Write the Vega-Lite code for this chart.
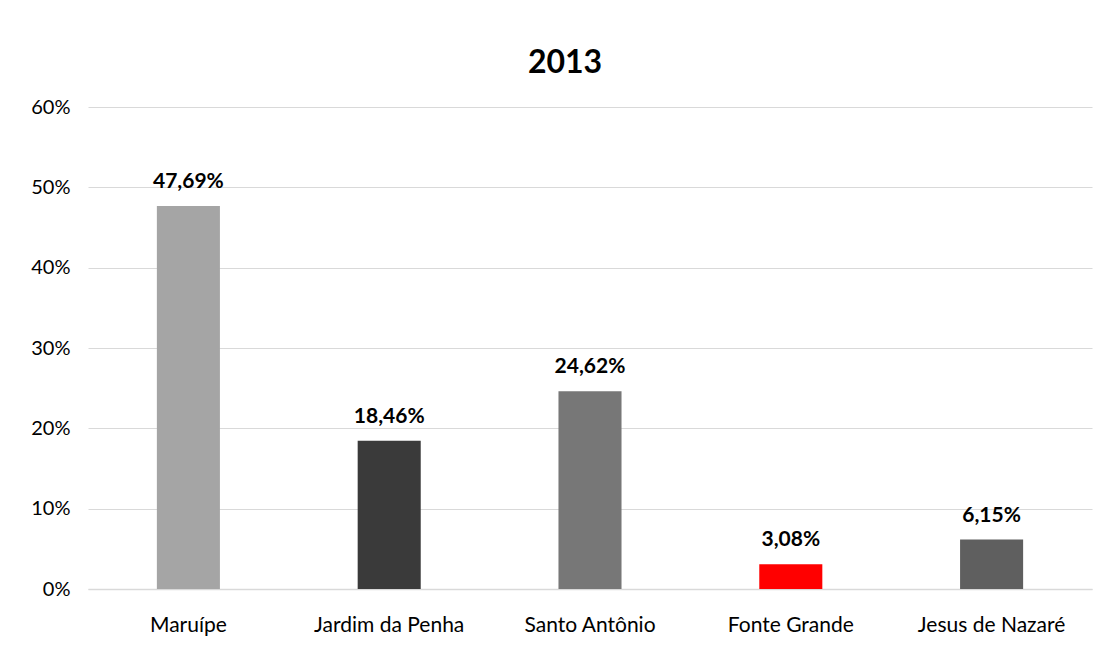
{
  "$schema": "https://vega.github.io/schema/vega-lite/v6.json",
  "autosize": {"type": "none"},
  "width": 1004,
  "height": 482,
  "padding": {"left": 88, "top": 107, "right": 22, "bottom": 57},
  "background": "white",
  "config": {
    "locale": {"number": {"decimal": ",", "thousands": ".", "grouping": [3], "currency": ["R$", ""]}},
    "view": {"stroke": null},
    "font": "Lato"
  },
  "title": {
    "text": "2013",
    "fontSize": 32,
    "fontWeight": "bold",
    "font": "Lato",
    "color": "#000000",
    "anchor": "middle",
    "frame": "group",
    "dx": -25,
    "offset": 17
  },
  "data": {
    "values": [
      {"bairro": "Maruípe", "valor": 0.4769},
      {"bairro": "Jardim da Penha", "valor": 0.1846},
      {"bairro": "Santo Antônio", "valor": 0.2462},
      {"bairro": "Fonte Grande", "valor": 0.0308},
      {"bairro": "Jesus de Nazaré", "valor": 0.0615}
    ]
  },
  "encoding": {
    "x": {
      "field": "bairro",
      "type": "nominal",
      "sort": null,
      "scale": {"paddingInner": 0.686, "paddingOuter": 0.343},
      "axis": {
        "title": null,
        "labelAngle": 0,
        "labelFontSize": 21,
        "labelColor": "#000000",
        "labelPadding": 25,
        "ticks": false,
        "domainColor": "#d9d9d9",
        "domainWidth": 1.5
      }
    },
    "y": {
      "field": "valor",
      "type": "quantitative",
      "scale": {"domain": [0, 0.6]},
      "axis": {
        "title": null,
        "format": ".0%",
        "values": [0, 0.1, 0.2, 0.3, 0.4, 0.5, 0.6],
        "labelFontSize": 20,
        "labelColor": "#000000",
        "labelPadding": 18,
        "ticks": false,
        "domain": false,
        "gridColor": "#d9d9d9",
        "gridWidth": 1
      }
    }
  },
  "layer": [
    {
      "mark": {"type": "bar"},
      "encoding": {
        "color": {
          "field": "bairro",
          "type": "nominal",
          "scale": {
            "domain": ["Maruípe", "Jardim da Penha", "Santo Antônio", "Fonte Grande", "Jesus de Nazaré"],
            "range": ["#a5a5a5", "#3a3a3a", "#777777", "#ff0000", "#5f5f5f"]
          },
          "legend": null
        }
      }
    },
    {
      "mark": {"type": "text", "baseline": "bottom", "dy": -14, "fontSize": 21, "fontWeight": "bold", "color": "#000000"},
      "encoding": {
        "text": {"field": "valor", "type": "quantitative", "format": ".2%"}
      }
    }
  ]
}
